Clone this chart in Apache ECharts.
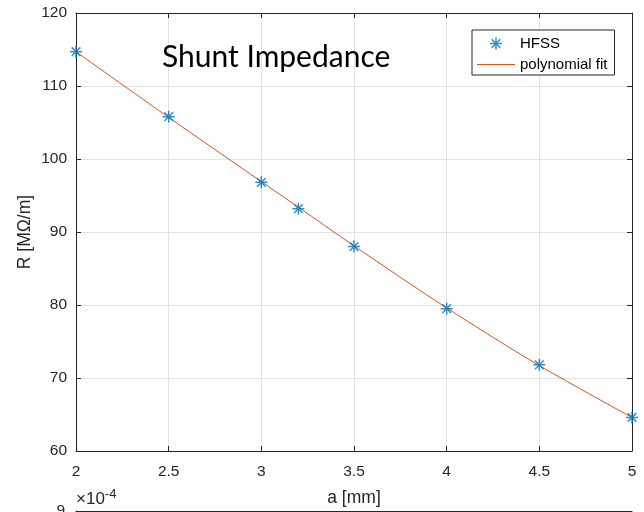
<!DOCTYPE html>
<html><head><meta charset="utf-8">
<script src="https://cdn.jsdelivr.net/npm/echarts@6/dist/echarts.min.js"></script>
<style>html,body{margin:0;padding:0;background:#fff}#c{width:644px;height:512px}</style>
</head><body><div id="c"></div>
<script>
const hfssX = [2, 2.5, 3, 3.2, 3.5, 4, 4.5, 5];
const hfssY = [114.7, 105.8, 96.8, 93.2, 88.0, 79.5, 71.8, 64.6];
const fitX = [2, 2.5, 3, 3.2, 3.5, 4, 4.5, 5];
const fitY = [114.7, 105.7, 96.9, 93.4, 88.1, 79.6, 71.7, 64.6];
const xTicks = [2, 2.5, 3, 3.5, 4, 4.5, 5];
const yTicks = [60, 70, 80, 90, 100, 110, 120];

const ink = '#262626';
const grid = '#e3e3e3';
const font = 'Liberation Sans, Arial, sans-serif';
const star = 'path://M0,-5L0,5M-5,0L5,0M-3.6,-3.6L3.6,3.6M-3.6,3.6L3.6,-3.6';
const lineIcon = 'path://M0,0L38,0L38,1.2L0,1.2Z';

const chart = echarts.init(document.getElementById('c'), null, {renderer: 'canvas'});
const baseAxis = {
  axisLine: {show: true, onZero: false, lineStyle: {color: ink, width: 1}},
  axisTick: {show: true, inside: true, length: 5, lineStyle: {color: ink}},
  axisLabel: {color: ink, fontSize: 15.5, fontFamily: font},
};
chart.setOption({
  animation: false,
  grid: [
    {left: 76, right: 12, top: 13, bottom: 60},
    {left: 76, right: 12, top: 511, height: 200}
  ],
  title: {
    text: 'Shunt Impedance', left: 157, top: 37,
    textStyle: {fontFamily: 'Lato, Open Sans, sans-serif', fontWeight: 'normal', fontSize: 30, color: '#000'}
  },
  legend: {
    left: 472, top: 30, orient: 'vertical', align: 'left',
    backgroundColor: '#fff', borderColor: ink, borderWidth: 1,
    padding: [5, 7, 3, 5], itemGap: 5, itemWidth: 38, itemHeight: 12,
    textStyle: {fontSize: 15, fontFamily: font, color: '#000', padding: [0, 0, 0, 0]},
    data: [
      {name: 'HFSS', icon: star, itemStyle: {color: 'none', borderColor: '#0072BD', borderWidth: 1.5}},
      {name: 'polynomial fit', icon: lineIcon, itemStyle: {color: '#D95319', borderWidth: 0}}
    ]
  },
  xAxis: [
    Object.assign({}, baseAxis, {
      gridIndex: 0, type: 'value', min: 2, max: 5, interval: 0.5, position: 'bottom',
      axisLabel: Object.assign({}, baseAxis.axisLabel, {margin: 13}),
      splitLine: {show: true, lineStyle: {color: grid}},
      name: 'a [mm]', nameLocation: 'middle', nameGap: 38, nameMoveOverlap: false,
      nameTextStyle: {color: ink, fontSize: 17.5, fontFamily: font}
    }),
    Object.assign({}, baseAxis, {
      gridIndex: 0, type: 'value', min: 2, max: 5, interval: 0.5, position: 'top',
      axisLabel: {show: false}, splitLine: {show: false}
    }),
    {
      gridIndex: 1, type: 'value', min: 2, max: 5, interval: 0.5, position: 'top',
      axisLine: {show: true, onZero: false, lineStyle: {color: ink}},
      axisTick: {show: false}, axisLabel: {show: false}, splitLine: {show: false}
    }
  ],
  yAxis: [
    Object.assign({}, baseAxis, {
      gridIndex: 0, type: 'value', min: 60, max: 120, interval: 10, position: 'left',
      axisLabel: Object.assign({}, baseAxis.axisLabel, {margin: 9}),
      splitLine: {show: true, lineStyle: {color: grid}},
      name: 'R [MΩ/m]', nameLocation: 'middle', nameGap: 42, nameMoveOverlap: false,
      nameTextStyle: {color: ink, fontSize: 17.5, fontFamily: font}
    }),
    Object.assign({}, baseAxis, {
      gridIndex: 0, type: 'value', min: 60, max: 120, interval: 10, position: 'right',
      axisLabel: {show: false}, splitLine: {show: false}
    }),
    {
      gridIndex: 1, type: 'value', min: 0, max: 9, interval: 1, position: 'left',
      axisLine: {show: true, onZero: false, lineStyle: {color: ink}},
      axisTick: {show: false},
      axisLabel: {color: ink, fontSize: 15.5, fontFamily: font, margin: 11,
        formatter: v => (v === 9 ? '9' : '')},
      splitLine: {show: false},
      name: '{a|×10}{b|-4}', nameLocation: 'end', nameGap: 0,
      nameTextStyle: {
        align: 'left', padding: [0, 0, 0, 0],
        rich: {
          a: {fontSize: 17, fontFamily: font, color: ink},
          b: {fontSize: 13, fontFamily: font, color: ink, verticalAlign: 'top', padding: [0, 0, 10, 0]}
        }
      }
    }
  ],
  series: [
    {
      name: 'polynomial fit', type: 'line', xAxisIndex: 0, yAxisIndex: 0,
      data: fitX.map((x, i) => [x, fitY[i]]), smooth: 0.3, showSymbol: false, symbol: 'none',
      lineStyle: {color: '#D95319', width: 1}, itemStyle: {color: '#D95319'}, z: 2
    },
    {
      name: 'HFSS', type: 'scatter', xAxisIndex: 0, yAxisIndex: 0,
      data: hfssX.map((x, i) => [x, hfssY[i]]), symbol: star, symbolSize: 12,
      itemStyle: {color: 'none', borderColor: '#0072BD', borderWidth: 1.5}, z: 3
    }
  ]
});
</script></body></html>
